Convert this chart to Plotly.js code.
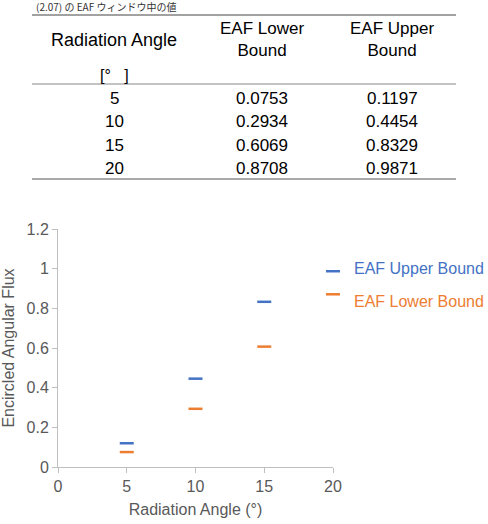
<!DOCTYPE html>
<html>
<head>
<meta charset="utf-8">
<script src="https://cdn.plot.ly/plotly-3.0.1.min.js"></script>
<style>html,body{margin:0;padding:0;background:#fff;}#chart{width:488px;height:524px;}</style>
</head>
<body>
<div id="chart"></div>
<script>
// ---- data ----
const angles = [5, 10, 15, 20];
const eafLower = [0.0753, 0.2934, 0.6069, 0.8708];
const eafUpper = [0.1197, 0.4454, 0.8329, 0.9871];
const seriesNames = ['EAF Upper Bound', 'EAF Lower Bound'];
const tableHeaders = ['Radiation Angle', 'EAF Lower<br>Bound', 'EAF Upper<br>Bound'];
const unitLabel = '[°   ]';
const captionText = '(2.07) の EAF ウィンドウ中の値';
const xTicks = [0, 5, 10, 15, 20];
const yTicks = [0, 0.2, 0.4, 0.6, 0.8, 1, 1.2];

// ---- layout helpers ----
const W = 488, H = 524;
const M = {l: 58, r: 155, t: 229, b: 57, autoexpand: false};
const PW = W - M.l - M.r, PH = H - M.t - M.b;
const px = x => (x - M.l) / PW;
const py = y => (H - M.b - y) / PH;

const FONT = 'Liberation Sans, Arial, sans-serif';
const BLUE = '#4472C4', ORANGE = '#ED7D31', GRAY = '#595959';

const annotations = [];
function addText(text, x, y, size, color, xanchor, family) {
  annotations.push({text: text, xref: 'paper', yref: 'paper', x: px(x), y: py(y),
    xanchor: xanchor || 'center', yanchor: 'middle', showarrow: false,
    font: {family: family || FONT, size: size, color: color || '#000'}});
}

// caption
addText(captionText, 34, 6, 10, '#333', 'left', 'Noto Sans CJK JP, ' + FONT);

// table header
const colX = [114, 262, 392];
addText(tableHeaders[0], colX[0], 40, 18);
addText(tableHeaders[1], colX[1], 40, 17);
addText(tableHeaders[2], colX[2], 40, 17);
addText(unitLabel, colX[0], 75, 16);
const rowY = [98, 121, 145, 168];
angles.forEach((a, i) => {
  addText(String(a), colX[0], rowY[i], 17);
  addText(eafLower[i].toFixed(4), colX[1], rowY[i], 17);
  addText(eafUpper[i].toFixed(4), colX[2], rowY[i], 17);
});

// legend labels (series markers at x=20 sit right beside them, as in the reference)
addText(seriesNames[0], 352, 268, 16, BLUE, 'left');
addText(seriesNames[1], 352, 301, 16, ORANGE, 'left');

const shapes = [
  {y: 15, c: '#444'}, {y: 84, c: '#888'}, {y: 179, c: '#555'}
].map(s => ({type: 'line', xref: 'paper', yref: 'paper', x0: px(32), x1: px(456),
  y0: py(s.y), y1: py(s.y), line: {color: s.c, width: 1}}));

const traces = [
  {x: angles, y: eafUpper, name: seriesNames[0],
   type: 'scatter', mode: 'markers', cliponaxis: false,
   marker: {symbol: 'line-ew', size: 10, color: BLUE, line: {color: BLUE, width: 2.5}}},
  {x: angles, y: eafLower, name: seriesNames[1],
   type: 'scatter', mode: 'markers', cliponaxis: false,
   marker: {symbol: 'line-ew', size: 10, color: ORANGE, line: {color: ORANGE, width: 2.5}}}
];

const layout = {
  width: W, height: H,
  margin: M,
  paper_bgcolor: '#fff', plot_bgcolor: '#fff',
  font: {family: FONT, color: GRAY},
  showlegend: false,
  xaxis: {range: [0, 20], tickvals: xTicks, ticktext: xTicks.map(String),
    showgrid: false, zeroline: false, showline: true, linecolor: '#bfbfbf', linewidth: 1,
    ticks: 'outside', ticklen: 5, tickcolor: '#bfbfbf',
    tickfont: {size: 16, color: GRAY},
    title: {text: 'Radiation Angle (°)', font: {size: 16, color: GRAY}, standoff: 9}},
  yaxis: {range: [0, 1.2], tickvals: yTicks, ticktext: yTicks.map(String),
    showgrid: false, zeroline: false, showline: true, linecolor: '#bfbfbf', linewidth: 1,
    ticks: 'outside', ticklen: 5, tickcolor: '#bfbfbf',
    tickfont: {size: 16, color: GRAY},
    title: {text: 'Encircled Angular Flux', font: {size: 16, color: GRAY}, standoff: 8}},
  annotations: annotations,
  shapes: shapes
};

Plotly.newPlot('chart', traces, layout, {displayModeBar: false, staticPlot: true});
</script>
</body>
</html>
